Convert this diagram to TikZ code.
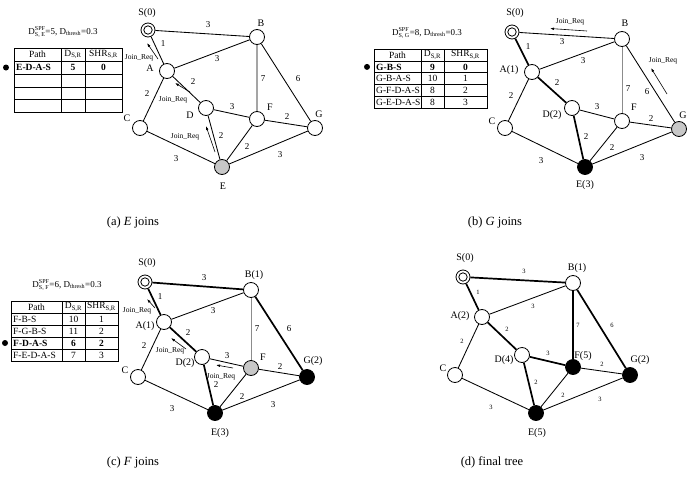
\documentclass[tikz,border=0pt]{standalone}
\usepackage{amsmath}
\usepackage{fontspec}
\setmainfont{Liberation Serif}
\usetikzlibrary{arrows.meta}
\tikzset{
  nd/.style={circle,draw,line width=0.8pt,minimum size=15pt,inner sep=0pt,fill=white},
  srcnd/.style={nd,minimum size=14pt,path picture={\draw[line width=0.8pt] (path picture bounding box.center) circle (4.2pt);}},
  joinnd/.style={fill=black!22},
  memnd/.style={fill=black},
  lbl/.style={font=\fontsize{10}{11}\selectfont,inner sep=0pt},
  wt/.style={font=\fontsize{9}{10}\selectfont,inner sep=0pt},
  wts/.style={font=\fontsize{6.5}{7}\selectfont,inner sep=0pt},
  edge/.style={line width=0.85pt},
  treeedge/.style={line width=1.7pt},
  grayedge/.style={line width=1pt,draw=black!45},
  jr/.style={font=\fontsize{7.5}{8}\selectfont,inner sep=0pt},
  jrarrow/.style={line width=0.6pt,-{Latex[length=4pt,width=2.6pt]}},
  cell/.style={font=\fontsize{9.5}{10}\selectfont,inner sep=0pt},
  celll/.style={cell,anchor=west},
  ttl/.style={font=\fontsize{9}{10}\selectfont,inner sep=0pt},
  captxt/.style={font=\fontsize{12.5}{13}\selectfont,inner sep=0pt},
  tbl/.style={line width=0.7pt},
  tblo/.style={line width=1pt},
  sel/.style={circle,fill=black,inner sep=0pt,minimum size=6pt}
}
\begin{document}
\begin{tikzpicture}[x=1pt,y=-1pt]
\useasboundingbox (0,0) rectangle (696,482);

% ================= Panel (a) =================
\node[ttl] (at) at (63,32) {D$^{\text{SPF}}_{\text{S, E}}$=5, D$_{\text{thresh}}$=0.3};
\draw[tblo] (14,48) rectangle (122,112);
\foreach \yy in {61,74,87,99.5} \draw[tbl] (14,\yy) -- (122,\yy);
\draw[tbl] (61,48) -- (61,112) (85,48) -- (85,112);
\node[cell] (ah1) at (37.5,54.5) {Path};
\node[cell] (ah2) at (73,54.5) {D\textsubscript{S,R}};
\node[cell] (ah3) at (103.5,54.5) {SHR\textsubscript{S,R}};
\node[celll] (ar1) at (16,67.5) {\textbf{E-D-A-S}};
\node[cell] (ar2) at (73,67.5) {\textbf{5}};
\node[cell] (ar3) at (103.5,67.5) {\textbf{0}};
\node[sel] (abul) at (6,67.5) {};

\node[srcnd] (aS) at (148,30) {};
\node[nd] (aB) at (257,37) {};
\node[nd] (aA) at (167,71) {};
\node[nd] (aD) at (206,108) {};
\node[nd] (aF) at (257,119) {};
\node[nd] (aG) at (315,128) {};
\node[nd] (aC) at (140,128) {};
\node[nd,joinnd] (aE) at (222,167) {};
\draw[edge] (aS)--(aB) (aS)--(aA) (aA)--(aB) (aA)--(aC) (aA)--(aD) (aB)--(aF) (aB)--(aG)
  (aD)--(aF) (aF)--(aG) (aD)--(aE) (aF)--(aE) (aC)--(aE) (aE)--(aG);
\node[lbl] (aSl) at (147,13) {S(0)};
\node[lbl] (aBl) at (261,23) {B};
\node[lbl] (aAl) at (150,68) {A};
\node[lbl] (aDl) at (190,115) {D};
\node[lbl] (aFl) at (270,107) {F};
\node[lbl] (aGl) at (319,114) {G};
\node[lbl] (aCl) at (127,118) {C};
\node[lbl] (aEl) at (223,186) {E};
\node[wt] (aw1) at (208,25) {3};
\node[wt] (aw2) at (163,44) {1};
\node[wt] (aw3) at (217,59) {3};
\node[wt] (aw4) at (193,82) {2};
\node[wt] (aw5) at (147,94) {2};
\node[wt] (aw6) at (263,79) {7};
\node[wt] (aw7) at (298,79) {6};
\node[wt] (aw8) at (232,107) {3};
\node[wt] (aw9) at (287,117) {2};
\node[wt] (aw10) at (221,136) {2};
\node[wt] (aw11) at (247,147) {2};
\node[wt] (aw12) at (176,159) {3};
\node[wt] (aw13) at (280,155) {3};
\coordinate (aj1a) at (158,59); \coordinate (aj1b) at (147,43);
\coordinate (aj2a) at (190,92); \coordinate (aj2b) at (175,83);
\coordinate (aj3a) at (215,152); \coordinate (aj3b) at (206,126);
\draw[jrarrow] (aj1a) -- (aj1b);
\draw[jrarrow] (aj2a) -- (aj2b);
\draw[jrarrow] (aj3a) -- (aj3b);
\node[jr] (aj1) at (139,58) {Join\_Req};
\node[jr] (aj2) at (173,100) {Join\_Req};
\node[jr] (aj3) at (185,137) {Join\_Req};
\node[captxt] (acap) at (133,222) {(a) \textit{E} joins};

% ================= Panel (b) =================
\node[ttl] (bt) at (427,33) {D$^{\text{SPF}}_{\text{S, G}}$=8, D$_{\text{thresh}}$=0.3};
\draw[tblo] (374,49) rectangle (487,108);
\foreach \yy in {61,72.75,84.5,96.25} \draw[tbl] (374,\yy) -- (487,\yy);
\draw[tbl] (421,49) -- (421,108) (444,49) -- (444,108);
\node[cell] (bh1) at (397.5,55) {Path};
\node[cell] (bh2) at (432.5,55) {D\textsubscript{S,R}};
\node[cell] (bh3) at (465.5,55) {SHR\textsubscript{S,R}};
\node[celll] (br11) at (376,66.9) {\textbf{G-B-S}};
\node[cell] (br12) at (432.5,66.9) {\textbf{9}};
\node[cell] (br13) at (465.5,66.9) {\textbf{0}};
\node[celll] (br21) at (376,78.6) {G-B-A-S};
\node[cell] (br22) at (432.5,78.6) {10};
\node[cell] (br23) at (465.5,78.6) {1};
\node[celll] (br31) at (376,90.4) {G-F-D-A-S};
\node[cell] (br32) at (432.5,90.4) {8};
\node[cell] (br33) at (465.5,90.4) {2};
\node[celll] (br41) at (376,102.1) {G-E-D-A-S};
\node[cell] (br42) at (432.5,102.1) {8};
\node[cell] (br43) at (465.5,102.1) {3};
\node[sel] (bbul) at (367,66.9) {};

\node[srcnd] (bS) at (512,32) {};
\node[nd] (bB) at (622,39) {};
\node[nd] (bA) at (532,72) {};
\node[nd] (bD) at (572,108) {};
\node[nd] (bF) at (622,121) {};
\node[nd,joinnd] (bG) at (679,129) {};
\node[nd] (bC) at (505,128) {};
\node[nd,memnd] (bE) at (585,167) {};
\draw[edge] (bS)--(bB) (bA)--(bB) (bA)--(bC) (bB)--(bG)
  (bD)--(bF) (bF)--(bG) (bF)--(bE) (bC)--(bE) (bE)--(bG);
\draw[treeedge] (bS)--(bA) (bA)--(bD) (bD)--(bE);
\draw[grayedge] (bB)--(bF);
\node[lbl] (bSl) at (515,13) {S(0)};
\node[lbl] (bBl) at (625,23) {B};
\node[lbl] (bAl) at (509,70) {A(1)};
\node[lbl] (bDl) at (552,115) {D(2)};
\node[lbl] (bFl) at (634,107) {F};
\node[lbl] (bGl) at (683,115) {G};
\node[lbl] (bCl) at (492,121) {C};
\node[lbl] (bEl) at (585,185) {E(3)};
\node[wt] (bw1) at (562,42) {3};
\node[wt] (bw2) at (528,47) {1};
\node[wt] (bw3) at (583,61) {3};
\node[wt] (bw4) at (557,83) {2};
\node[wt] (bw5) at (511,96) {2};
\node[wt] (bw6) at (628,89) {7};
\node[wt] (bw7) at (647,92) {6};
\node[wt] (bw8) at (597,107) {3};
\node[wt] (bw9) at (651,119) {2};
\node[wt] (bw10) at (586,137) {2};
\node[wt] (bw11) at (612,148) {2};
\node[wt] (bw12) at (541,161) {3};
\node[wt] (bw13) at (642,158) {3};
\coordinate (bj1a) at (587,31); \coordinate (bj1b) at (550,28.5);
\coordinate (bj2a) at (667,94); \coordinate (bj2b) at (651,68);
\draw[jrarrow] (bj1a) -- (bj1b);
\draw[jrarrow] (bj2a) -- (bj2b);
\node[jr] (bj1) at (570,22) {Join\_Req};
\node[jr] (bj2) at (663,61) {Join\_Req};
\node[captxt] (bcap) at (495,222) {(b) \textit{G} joins};

% ================= Panel (c) =================
\node[ttl] (ct) at (67,285) {D$^{\text{SPF}}_{\text{S, F}}$=6, D$_{\text{thresh}}$=0.3};
\draw[tblo] (11,301) rectangle (118,361);
\foreach \yy in {313,325,337,349} \draw[tbl] (11,\yy) -- (118,\yy);
\draw[tbl] (62,301) -- (62,361) (85,301) -- (85,361);
\node[cell] (ch1) at (36.5,307) {Path};
\node[cell] (ch2) at (73.5,307) {D\textsubscript{S,R}};
\node[cell] (ch3) at (101.5,307) {SHR\textsubscript{S,R}};
\node[celll] (cr11) at (13,319) {F-B-S};
\node[cell] (cr12) at (73.5,319) {10};
\node[cell] (cr13) at (101.5,319) {1};
\node[celll] (cr21) at (13,331) {F-G-B-S};
\node[cell] (cr22) at (73.5,331) {11};
\node[cell] (cr23) at (101.5,331) {2};
\node[celll] (cr31) at (13,343) {\textbf{F-D-A-S}};
\node[cell] (cr32) at (73.5,343) {\textbf{6}};
\node[cell] (cr33) at (101.5,343) {\textbf{2}};
\node[celll] (cr41) at (13,355) {F-E-D-A-S};
\node[cell] (cr42) at (73.5,355) {7};
\node[cell] (cr43) at (101.5,355) {3};
\node[sel] (cbul) at (5,343) {};

\node[srcnd] (cS) at (145,282) {};
\node[nd] (cB) at (251,290) {};
\node[nd] (cA) at (164,322) {};
\node[nd] (cD) at (202,357) {};
\node[nd,joinnd] (cF) at (251,368) {};
\node[nd,memnd] (cG) at (307,377) {};
\node[nd] (cC) at (138,377) {};
\node[nd,memnd] (cE) at (215,413) {};
\draw[edge] (cA)--(cB) (cA)--(cC) (cD)--(cF) (cF)--(cG) (cF)--(cE) (cC)--(cE) (cE)--(cG);
\draw[treeedge] (cS)--(cA) (cA)--(cD) (cD)--(cE) (cS)--(cB) (cB)--(cG);
\draw[grayedge] (cB)--(cF);
\node[lbl] (cSl) at (147,263) {S(0)};
\node[lbl] (cBl) at (254,275) {B(1)};
\node[lbl] (cAl) at (145,326) {A(1)};
\node[lbl] (cDl) at (185,363) {D(2)};
\node[lbl] (cFl) at (263,357) {F};
\node[lbl] (cGl) at (313,361) {G(2)};
\node[lbl] (cCl) at (125,370) {C};
\node[lbl] (cEl) at (220,433) {E(3)};
\node[wt] (cw1) at (204,278) {3};
\node[wt] (cw2) at (160,297) {1};
\node[wt] (cw3) at (213,311) {3};
\node[wt] (cw4) at (188,333) {2};
\node[wt] (cw5) at (144,346) {2};
\node[wt] (cw6) at (257,329) {7};
\node[wt] (cw7) at (289,329) {6};
\node[wt] (cw8) at (227,356) {3};
\node[wt] (cw9) at (280,367) {2};
\node[wt] (cw10) at (216,385) {2};
\node[wt] (cw11) at (242,397) {2};
\node[wt] (cw12) at (172,409) {3};
\node[wt] (cw13) at (273,405) {3};
\coordinate (cj1a) at (155,308); \coordinate (cj1b) at (147,299);
\coordinate (cj2a) at (186,349); \coordinate (cj2b) at (171,338);
\coordinate (cj3a) at (233,368); \coordinate (cj3b) at (216,365);
\draw[jrarrow] (cj1a) -- (cj1b);
\draw[jrarrow] (cj2a) -- (cj2b);
\draw[jrarrow] (cj3a) -- (cj3b);
\node[jr] (cj1) at (137,311) {Join\_Req};
\node[jr] (cj2) at (170,351) {Join\_Req};
\node[jr] (cj3) at (221,377) {Join\_Req};
\node[captxt] (ccap) at (133,462) {(c) \textit{F} joins};

% ================= Panel (d) =================
\node[srcnd] (dS) at (463,277) {};
\node[nd] (dB) at (573,283) {};
\node[nd] (dA) at (482,317) {};
\node[nd] (dD) at (522,355) {};
\node[nd,memnd] (dF) at (573,367) {};
\node[nd,memnd] (dG) at (630,375) {};
\node[nd] (dC) at (455,375) {};
\node[nd,memnd] (dE) at (536,413) {};
\draw[edge] (dA)--(dB) (dA)--(dC) (dF)--(dG) (dF)--(dE) (dC)--(dE) (dE)--(dG);
\draw[treeedge] (dS)--(dA) (dA)--(dD) (dD)--(dE) (dD)--(dF) (dS)--(dB) (dB)--(dG);
\draw[edge,line width=1.1pt] (dB)--(dF);
\node[lbl] (dSl) at (465,258) {S(0)};
\node[lbl] (dBl) at (577,268) {B(1)};
\node[lbl] (dAl) at (460,316) {A(2)};
\node[lbl] (dDl) at (504,360) {D(4)};
\node[lbl] (dFl) at (583,356) {F(5)};
\node[lbl] (dGl) at (640,360) {G(2)};
\node[lbl] (dCl) at (443,368) {C};
\node[lbl] (dEl) at (537,433) {E(5)};
\node[wts] (dw1) at (524,271) {3};
\node[wts] (dw2) at (478,292) {1};
\node[wts] (dw3) at (533,306) {3};
\node[wts] (dw4) at (507,329) {2};
\node[wts] (dw5) at (462,341) {2};
\node[wts] (dw6) at (578,325) {7};
\node[wts] (dw7) at (612,325) {6};
\node[wts] (dw8) at (548,353) {3};
\node[wts] (dw9) at (602,364) {2};
\node[wts] (dw10) at (536,382) {2};
\node[wts] (dw11) at (563,395) {2};
\node[wts] (dw12) at (491,407) {3};
\node[wts] (dw13) at (600,399) {3};
\node[captxt] (dcap) at (492,462) {(d) final tree};
\end{tikzpicture}
\end{document}
